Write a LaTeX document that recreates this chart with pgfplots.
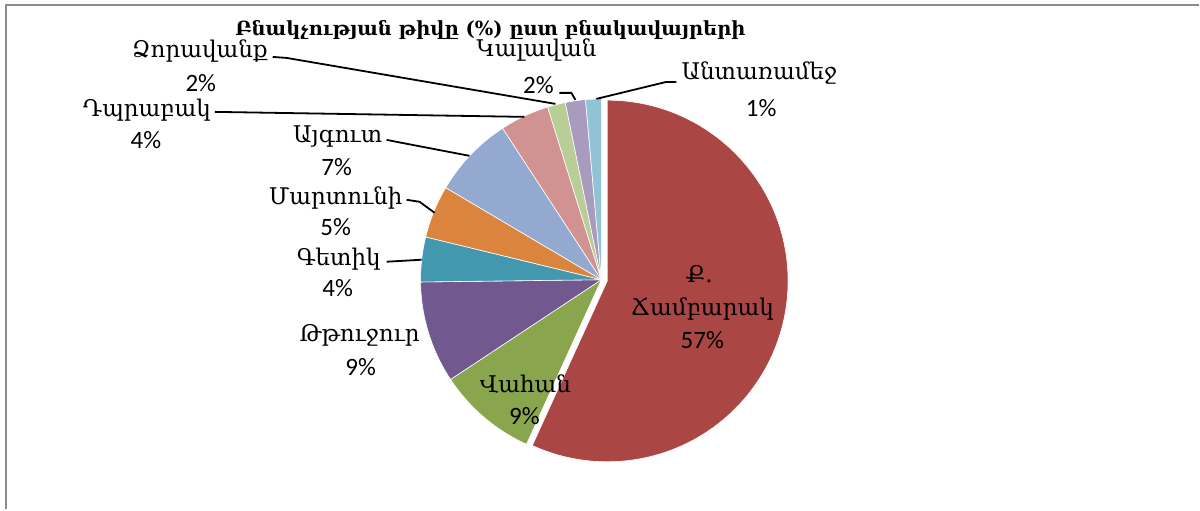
\documentclass[border=0pt]{standalone}
\usepackage{pgfplots}
\usepackage{pgfplotstable}
\pgfplotsset{compat=1.18}
\usepackage{fontspec}
\setmainfont{Carlito}
\newfontfamily\arm{DejaVu Serif}

\definecolor{cRed}{HTML}{AA4643}
\definecolor{cGreen}{HTML}{89A54E}
\definecolor{cPurple}{HTML}{71588F}
\definecolor{cTeal}{HTML}{4198AF}
\definecolor{cOrange}{HTML}{DB843D}
\definecolor{cBlue}{HTML}{93A9CF}
\definecolor{cPink}{HTML}{D19392}
\definecolor{cLGreen}{HTML}{B9CD96}
\definecolor{cLav}{HTML}{A99BBD}
\definecolor{cLBlue}{HTML}{92C3D5}
\definecolor{frame}{HTML}{8C8C8C}

% share (%) of each settlement, clockwise from 12 o'clock
\pgfplotstableread{
idx val  col
0   56.8 cRed
1   8.9  cGreen
2   9.1  cPurple
3   4.0  cTeal
4   4.7  cOrange
5   7.3  cBlue
6   4.4  cPink
7   1.6  cLGreen
8   1.8  cLav
9   1.4  cLBlue
}\pietable

\newcommand{\lbl}{\fontsize{25}{29}\selectfont}
\newcommand{\armlbl}{\arm\fontsize{23}{27}\selectfont}

\begin{document}
\begin{tikzpicture}
\begin{axis}[
  x=1pt, y=1pt,
  xmin=0, xmax=1200, ymin=0, ymax=510,
  hide axis, scale only axis, clip=false,
]
\pgfplotsextra{
  \path (axis cs:0,0) rectangle (axis cs:1200,510);
  \xdef\cum{0}
  \foreach \i in {0,...,9} {
    \pgfplotstablegetelem{\i}{val}\of\pietable
    \let\v\pgfplotsretval
    \pgfplotstablegetelem{\i}{col}\of\pietable
    \let\c\pgfplotsretval
    \pgfmathsetmacro\aStart{90-3.6*\cum}
    \pgfmathsetmacro\aEnd{90-3.6*(\cum+\v)}
    \pgfmathsetmacro\aMid{(\aStart+\aEnd)/2}
    \pgfmathsetmacro\ex{\i==0 ? 6 : 0}
    \path[fill=\c, draw=white, line width=0.6pt]
      (axis cs:602,230) ++(\aMid:\ex pt) -- ++(\aStart:181pt)
      arc[start angle=\aStart, end angle=\aEnd, radius=181pt] -- cycle;
    \pgfmathsetmacro\newcum{\cum+\v}
    \xdef\cum{\newcum}
  }
  % frame
  \draw[frame, line width=2.5pt] (axis cs:6,0) -- (axis cs:6,505) -- (axis cs:1200,505);
  % leader lines
  \begin{scope}[black, line width=1.8pt]
  \draw (axis cs:273,453) -- (axis cs:287,452) -- (axis cs:556,406);
  \draw (axis cs:560,417) -- (axis cs:572,417) -- (axis cs:576,410);
  \draw (axis cs:677,428) -- (axis cs:667,428) -- (axis cs:597,411);
  \draw (axis cs:215,398) -- (axis cs:525,393);
  \draw (axis cs:387,370) -- (axis cs:397,368) -- (axis cs:470,354);
  \draw (axis cs:407,310) -- (axis cs:420,308) -- (axis cs:435,297);
  \draw (axis cs:387,248) -- (axis cs:422,250);
  \end{scope}
  % title
  \node[inner sep=0pt] at (axis cs:491,480) {\arm\bfseries\fontsize{19.5}{23}\selectfont Բնակչության թիվը (\%) ըստ բնակավայրերի};
  % labels
  \node[inner sep=0pt] at (axis cs:200,459) {\armlbl Ձորավանք};
  \node[inner sep=0pt] at (axis cs:201,427) {\lbl 2\%};
  \node[inner sep=0pt] at (axis cs:537,460) {\armlbl Կալավան};
  \node[inner sep=0pt] at (axis cs:539,425) {\lbl 2\%};
  \node[inner sep=0pt] at (axis cs:760,437) {\armlbl Անտառամեջ};
  \node[inner sep=0pt] at (axis cs:762,402) {\lbl 1\%};
  \node[inner sep=0pt] at (axis cs:147,400) {\armlbl Դպրաբակ};
  \node[inner sep=0pt] at (axis cs:146,370) {\lbl 4\%};
  \node[inner sep=0pt] at (axis cs:338,373) {\armlbl Այգուտ};
  \node[inner sep=0pt] at (axis cs:337,343) {\lbl 7\%};
  \node[inner sep=0pt] at (axis cs:336,312) {\armlbl Մարտունի};
  \node[inner sep=0pt] at (axis cs:336,283) {\lbl 5\%};
  \node[inner sep=0pt] at (axis cs:339,251) {\armlbl Գետիկ};
  \node[inner sep=0pt] at (axis cs:338,222) {\lbl 4\%};
  \node[inner sep=0pt] at (axis cs:360,174) {\armlbl Թթուջուր};
  \node[inner sep=0pt] at (axis cs:361,143) {\lbl 9\%};
  \node[inner sep=0pt] at (axis cs:526,125) {\armlbl Վահան};
  \node[inner sep=0pt] at (axis cs:525,93) {\lbl 9\%};
  \node[inner sep=0pt] at (axis cs:700,236) {\armlbl Ք.};
  \node[inner sep=0pt] at (axis cs:703,201) {\armlbl Ճամբարակ};
  \node[inner sep=0pt] at (axis cs:703,170) {\lbl 57\%};
}
\end{axis}
\end{tikzpicture}
\end{document}
